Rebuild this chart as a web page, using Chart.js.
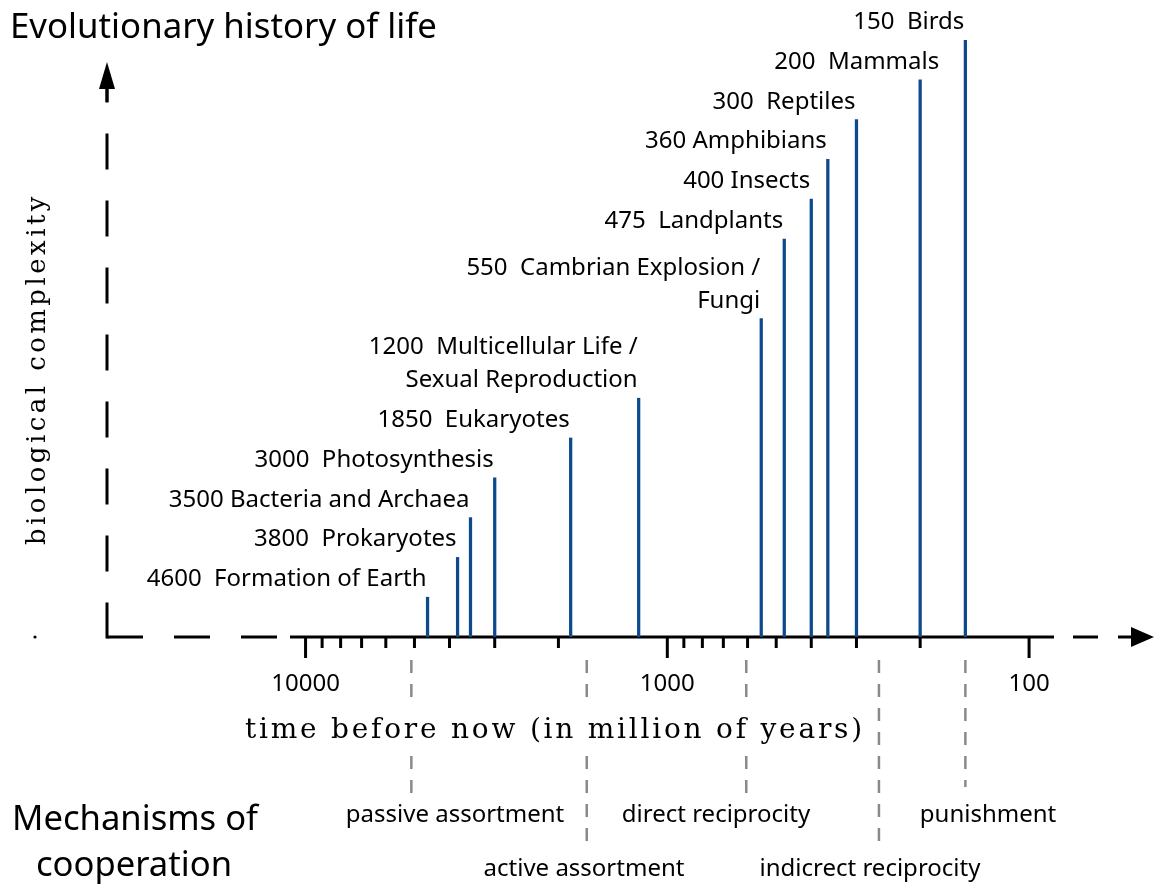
<!DOCTYPE html>
<html lang="en">
<head>
    <meta charset="UTF-8">
    <title>Evolutionary history of life</title>
    <script src="https://cdn.jsdelivr.net/npm/chart.js"></script>
    <style>
        body { margin: 0; background: #fff; }
        #wrap { width: 1154px; height: 886px; position: relative; }
    </style>
</head>
<body>
    <div id="wrap">
        <canvas id="lifeChart"></canvas>
    </div>

<script>
// dados: tempo (milhões de anos) e nível de complexidade
const times = [4600, 3800, 3500, 3000, 1850, 1200, 550, 475, 400, 360, 300, 200, 150];
const complexity = [1, 2, 3, 4, 5, 6, 8, 10, 11, 12, 13, 14, 15];
const events = [
    ['4600  Formation of Earth'],
    ['3800  Prokaryotes'],
    ['3500 Bacteria and Archaea'],
    ['3000  Photosynthesis'],
    ['1850  Eukaryotes'],
    ['1200  Multicellular Life /', 'Sexual Reproduction'],
    ['550  Cambrian Explosion /', 'Fungi'],
    ['475  Landplants'],
    ['400 Insects'],
    ['360 Amphibians'],
    ['300  Reptiles'],
    ['200  Mammals'],
    ['150  Birds']
];
// deslocamento horizontal do texto (px)
const labelShift = [0, 0, 0, 0, 0, 0, 0, 0, 0, 0, 0, 20, 0];

const majorTicks = [10000, 1000, 100];
const minorTicks = [9000, 8000, 7000, 6000, 5000, 4000, 3000, 2000,
                    900, 800, 700, 600, 500, 400, 300, 200];

// mecanismos de cooperação
const mechanisms = ['passive assortment', 'active assortment', 'direct reciprocity',
                    'indicrect reciprocity', 'punishment'];
const mechTimes = [5100, 1670, 605, 260, 150];
// layout dos rótulos
const mechLabelX = [455, 584, 716, 870, 988];
const mechLabelRow = [0, 1, 0, 1, 0];
const mechLineEnd = [797, 852, 797, 848, 787];

const BLUE = '#0c4a8d';
const SANS = '"Noto Sans", sans-serif';
const SERIF = '"DejaVu Serif", serif';
const LABEL_FONT = '24px ' + SANS;

function fitFont(ctx, text, family, width) {
    ctx.font = '100px ' + family;
    const w = ctx.measureText(text).width;
    return (100 * width / w).toFixed(2) + 'px ' + family;
}

// texto serifado espaçado até a largura pedida
function spacedText(ctx, text, size, width, x, y) {
    ctx.letterSpacing = '0px';
    ctx.font = size + 'px ' + SERIF;
    const w = ctx.measureText(text).width;
    const sp = Math.max(0, (width - w) / text.length);
    ctx.letterSpacing = sp.toFixed(2) + 'px';
    ctx.font = size + 'px ' + SERIF;
    ctx.fillText(text, x, y);
    ctx.letterSpacing = '0px';
}

function seg(ctx, x1, y1, x2, y2) {
    ctx.beginPath();
    ctx.moveTo(x1, y1);
    ctx.lineTo(x2, y2);
    ctx.stroke();
}

// eixos, ticks e textos desenhados com as escalas do gráfico
const decorPlugin = {
    id: 'decor',
    beforeDatasetsDraw(chart) {
        const ctx = chart.ctx;
        const xs = chart.scales.x;
        const ys = chart.scales.y;
        const y0 = ys.getPixelForValue(0);
        const xAxis = chart.chartArea.left;

        ctx.save();
        ctx.strokeStyle = '#000';
        ctx.fillStyle = '#000';
        ctx.lineWidth = 3;
        ctx.lineCap = 'butt';

        // eixo x: tracejado, parte sólida, seta
        [[xAxis, 143], [174, 210], [241, 277], [290, 1054], [1073, 1098], [1118, 1134]]
            .forEach(s => seg(ctx, s[0], y0, s[1], y0));
        ctx.beginPath();
        ctx.moveTo(1154, y0);
        ctx.lineTo(1131, y0 - 10);
        ctx.lineTo(1131, y0 + 10);
        ctx.closePath();
        ctx.fill();
        ctx.beginPath();
        ctx.arc(35, y0, 1.6, 0, Math.PI * 2);
        ctx.fill();

        // eixo y tracejado
        for (let yy = y0 + 1.5; yy > 100; yy -= 67) {
            seg(ctx, xAxis, yy, xAxis, Math.max(yy - 36, 88));
        }
        seg(ctx, xAxis, 102, xAxis, 86);
        ctx.beginPath();
        ctx.moveTo(xAxis, 62);
        ctx.lineTo(xAxis - 8, 89);
        ctx.lineTo(xAxis + 8, 89);
        ctx.closePath();
        ctx.fill();

        // ticks
        majorTicks.forEach(v => {
            const px = xs.getPixelForValue(v);
            seg(ctx, px, y0, px, y0 + 21);
        });
        minorTicks.forEach(v => {
            const px = xs.getPixelForValue(v);
            seg(ctx, px, y0, px, y0 + 11);
        });
        ctx.font = LABEL_FONT;
        ctx.textAlign = 'center';
        ctx.textBaseline = 'middle';
        majorTicks.forEach(v => {
            ctx.fillText(String(v), xs.getPixelForValue(v), 684);
        });

        // linhas verticais cinza dos mecanismos
        ctx.strokeStyle = '#8a8a8a';
        ctx.lineWidth = 2.5;
        ctx.setLineDash([13, 11]);
        mechTimes.forEach((t, i) => {
            const px = xs.getPixelForValue(t);
            seg(ctx, px, 660, px, mechLineEnd[i]);
        });
        ctx.setLineDash([]);

        // rótulo do eixo x (com fundo branco sobre as linhas)
        ctx.fillStyle = '#fff';
        ctx.fillRect(240, 706, 628, 48);
        ctx.fillStyle = '#000';
        ctx.textAlign = 'left';
        spacedText(ctx, 'time before now (in million of years)', 28, 620, 245, 731);

        // rótulo do eixo y
        ctx.save();
        ctx.translate(38, 370);
        ctx.rotate(-Math.PI / 2);
        ctx.textAlign = 'left';
        spacedText(ctx, 'biological complexity', 26, 352, -175, 0);
        ctx.restore();

        // títulos
        ctx.textAlign = 'left';
        ctx.font = fitFont(ctx, 'Evolutionary history of life', SANS, 427);
        ctx.fillText('Evolutionary history of life', 10, 28);
        ctx.textAlign = 'center';
        ctx.font = fitFont(ctx, 'Mechanisms of', SANS, 246);
        ctx.fillText('Mechanisms of', 135, 820);
        ctx.fillText('cooperation', 134, 866);

        // nomes dos mecanismos
        ctx.font = LABEL_FONT;
        mechanisms.forEach((m, i) => {
            ctx.fillText(m, mechLabelX[i], mechLabelRow[i] ? 869 : 815);
        });
        ctx.restore();
    },
    afterDatasetsDraw(chart) {
        const ctx = chart.ctx;
        const xs = chart.scales.x;
        const ys = chart.scales.y;
        ctx.save();
        ctx.fillStyle = '#000';
        ctx.font = LABEL_FONT;
        ctx.textAlign = 'right';
        ctx.textBaseline = 'alphabetic';
        times.forEach((t, i) => {
            const px = xs.getPixelForValue(t) - 1 + labelShift[i];
            const top = ys.getPixelForValue(complexity[i]);
            const lines = events[i];
            lines.forEach((ln, k) => {
                const base = top - 11 - (lines.length - 1 - k) * 33;
                ctx.fillText(ln, px, base);
            });
        });
        ctx.restore();
    }
};

new Chart(document.getElementById('lifeChart').getContext('2d'), {
    type: 'bar',
    data: {
        datasets: [{
            data: times.map((t, i) => ({ x: t, y: complexity[i] })),
            backgroundColor: BLUE,
            borderWidth: 0,
            barThickness: 2.6
        }]
    },
    options: {
        responsive: true,
        maintainAspectRatio: false,
        animation: false,
        layout: { padding: { left: 107, right: 24, top: 40, bottom: 249 } },
        plugins: { legend: { display: false }, tooltip: { enabled: false } },
        scales: {
            x: {
                type: 'logarithmic',
                reverse: true,
                min: 52.6,
                max: 35390,
                display: false
            },
            y: {
                type: 'linear',
                min: 0,
                max: 15,
                display: false
            }
        }
    },
    plugins: [decorPlugin]
});
</script>
</body>
</html>
